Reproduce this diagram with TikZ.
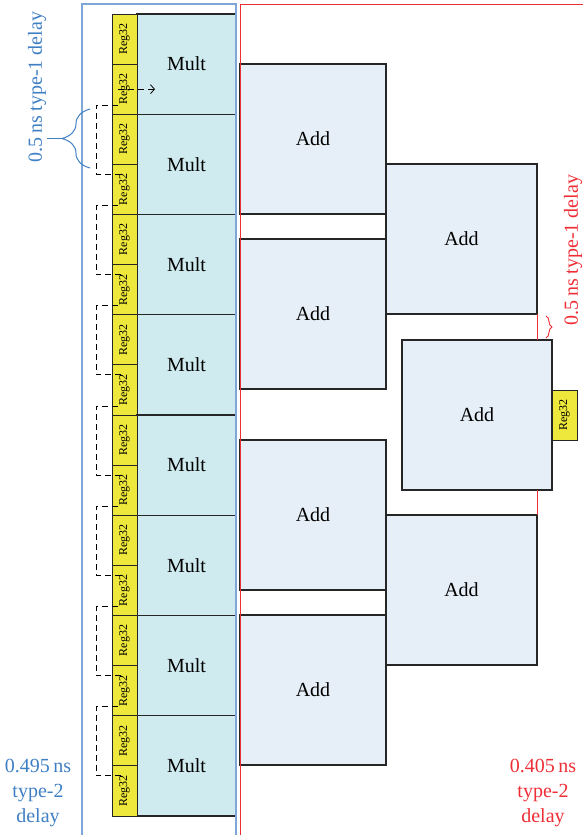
\documentclass[tikz,border=0pt]{standalone}
\usepackage{fontspec}
\usepackage{graphicx}
\setmainfont{Liberation Serif}
\usetikzlibrary{decorations.pathreplacing,arrows.meta}
\definecolor{regY}{HTML}{EEE83C}
\definecolor{multC}{HTML}{CFEBEF}
\definecolor{addC}{HTML}{E6EEF7}
\definecolor{frameB}{HTML}{7EA6D8}
\definecolor{textB}{HTML}{3F7FC4}
\definecolor{redC}{HTML}{EE2E36}
\begin{document}
\begin{tikzpicture}[x=1pt,y=-1pt,
  box/.style={draw=black!85, line width=1.1pt, inner sep=0pt, outer sep=0pt},
  multbox/.style={box, fill=multC, minimum width=99pt, minimum height=100.25pt, font=\fontsize{20}{24}\selectfont},
  regbox/.style={box, line width=0.9pt, fill=regY, minimum width=25pt, minimum height=50.125pt, font=\fontsize{12}{14}\selectfont},
  addbox/.style={box, fill=addC, minimum height=150pt, font=\fontsize{20}{24}\selectfont},
  fbline/.style={dashed, line width=0.8pt, dash pattern=on 6pt off 4pt},
  bigtxt/.style={font=\fontsize{20}{25}\selectfont, align=center, inner sep=0pt}
]
\useasboundingbox (0,0) rectangle (583,835);
% Mult column
\foreach \i in {1,...,8}{
  \pgfmathsetmacro\yt{14+100.25*(\i-1)}
  \node[multbox] (m\i) at (186.5,\yt+50.125) {Mult};
  \node[regbox] (ru\i) at (124.5,\yt+25.0625) {\rotatebox{90}{Reg32}};
  \node[regbox] (rl\i) at (124.5,\yt+75.1875) {\rotatebox{90}{Reg32}};
}
% feedback brackets
\foreach \k [evaluate=\k as \n using int(\k+1)] in {1,...,7}{
  \draw[fbline] ([xshift=6pt,yshift=9pt]rl\k.south west) -- ++(-22pt,0)
     |- ([xshift=10pt,yshift=-10pt]rl\n.north west);
}
\draw[fbline, -{Straight Barb[length=4pt,width=9pt]}] ([xshift=6pt]rl1.west) -- ([xshift=43pt]rl1.west);
% Add tree
\node[addbox, minimum width=146pt] (a1) at (313,139) {Add};
\node[addbox, minimum width=146pt] (a2) at (313,314) {Add};
\node[addbox, minimum width=146pt] (a3) at (313,515) {Add};
\node[addbox, minimum width=146pt] (a4) at (313,690) {Add};
\node[addbox, minimum width=151pt] (a5) at (461.5,239) {Add};
\node[addbox, minimum width=151pt] (a6) at (461.5,590) {Add};
\node[addbox, minimum width=150pt] (a7) at (477,415) {Add};
\node[regbox, minimum height=50pt] (r9) at (564.5,415) {\rotatebox{90}{Reg32}};
% red delay markers
\draw[redC, line width=0.9pt] (a5.south east) -- (a5.south east |- a7.north);
\draw[redC, line width=0.9pt] (a6.north east |- a7.south) -- (a6.north east);
% frames
\draw[frameB, line width=1.2pt] (82,835) -- (82,4) -- (236,4) -- (236,835);
\draw[redC, line width=1pt] (240,835) -- (240,4) -- (583,4);
% labels
\node[textB, bigtxt, rotate=90] (t1) at (37,87) {0.5\,ns type-1 delay};
\draw[textB, line width=1pt, decorate, decoration={brace, amplitude=28pt}] (90,168) -- (90,109);
\coordinate (bt) at (62,138.5);
\draw[textB, line width=1pt] (bt) -- (47,138.5);
\node[redC, bigtxt, rotate=90] (t2) at (573,250) {0.5\,ns type-1 delay};
\draw[redC, line width=0.9pt, decorate, decoration={brace, amplitude=6pt}] (546,316) -- (546,338);
\node[textB, bigtxt] (b1) at (38,793) {0.495\,ns\\type-2\\delay};
\node[redC, bigtxt] (b2) at (543,793) {0.405\,ns\\type-2\\delay};
\end{tikzpicture}
\end{document}
